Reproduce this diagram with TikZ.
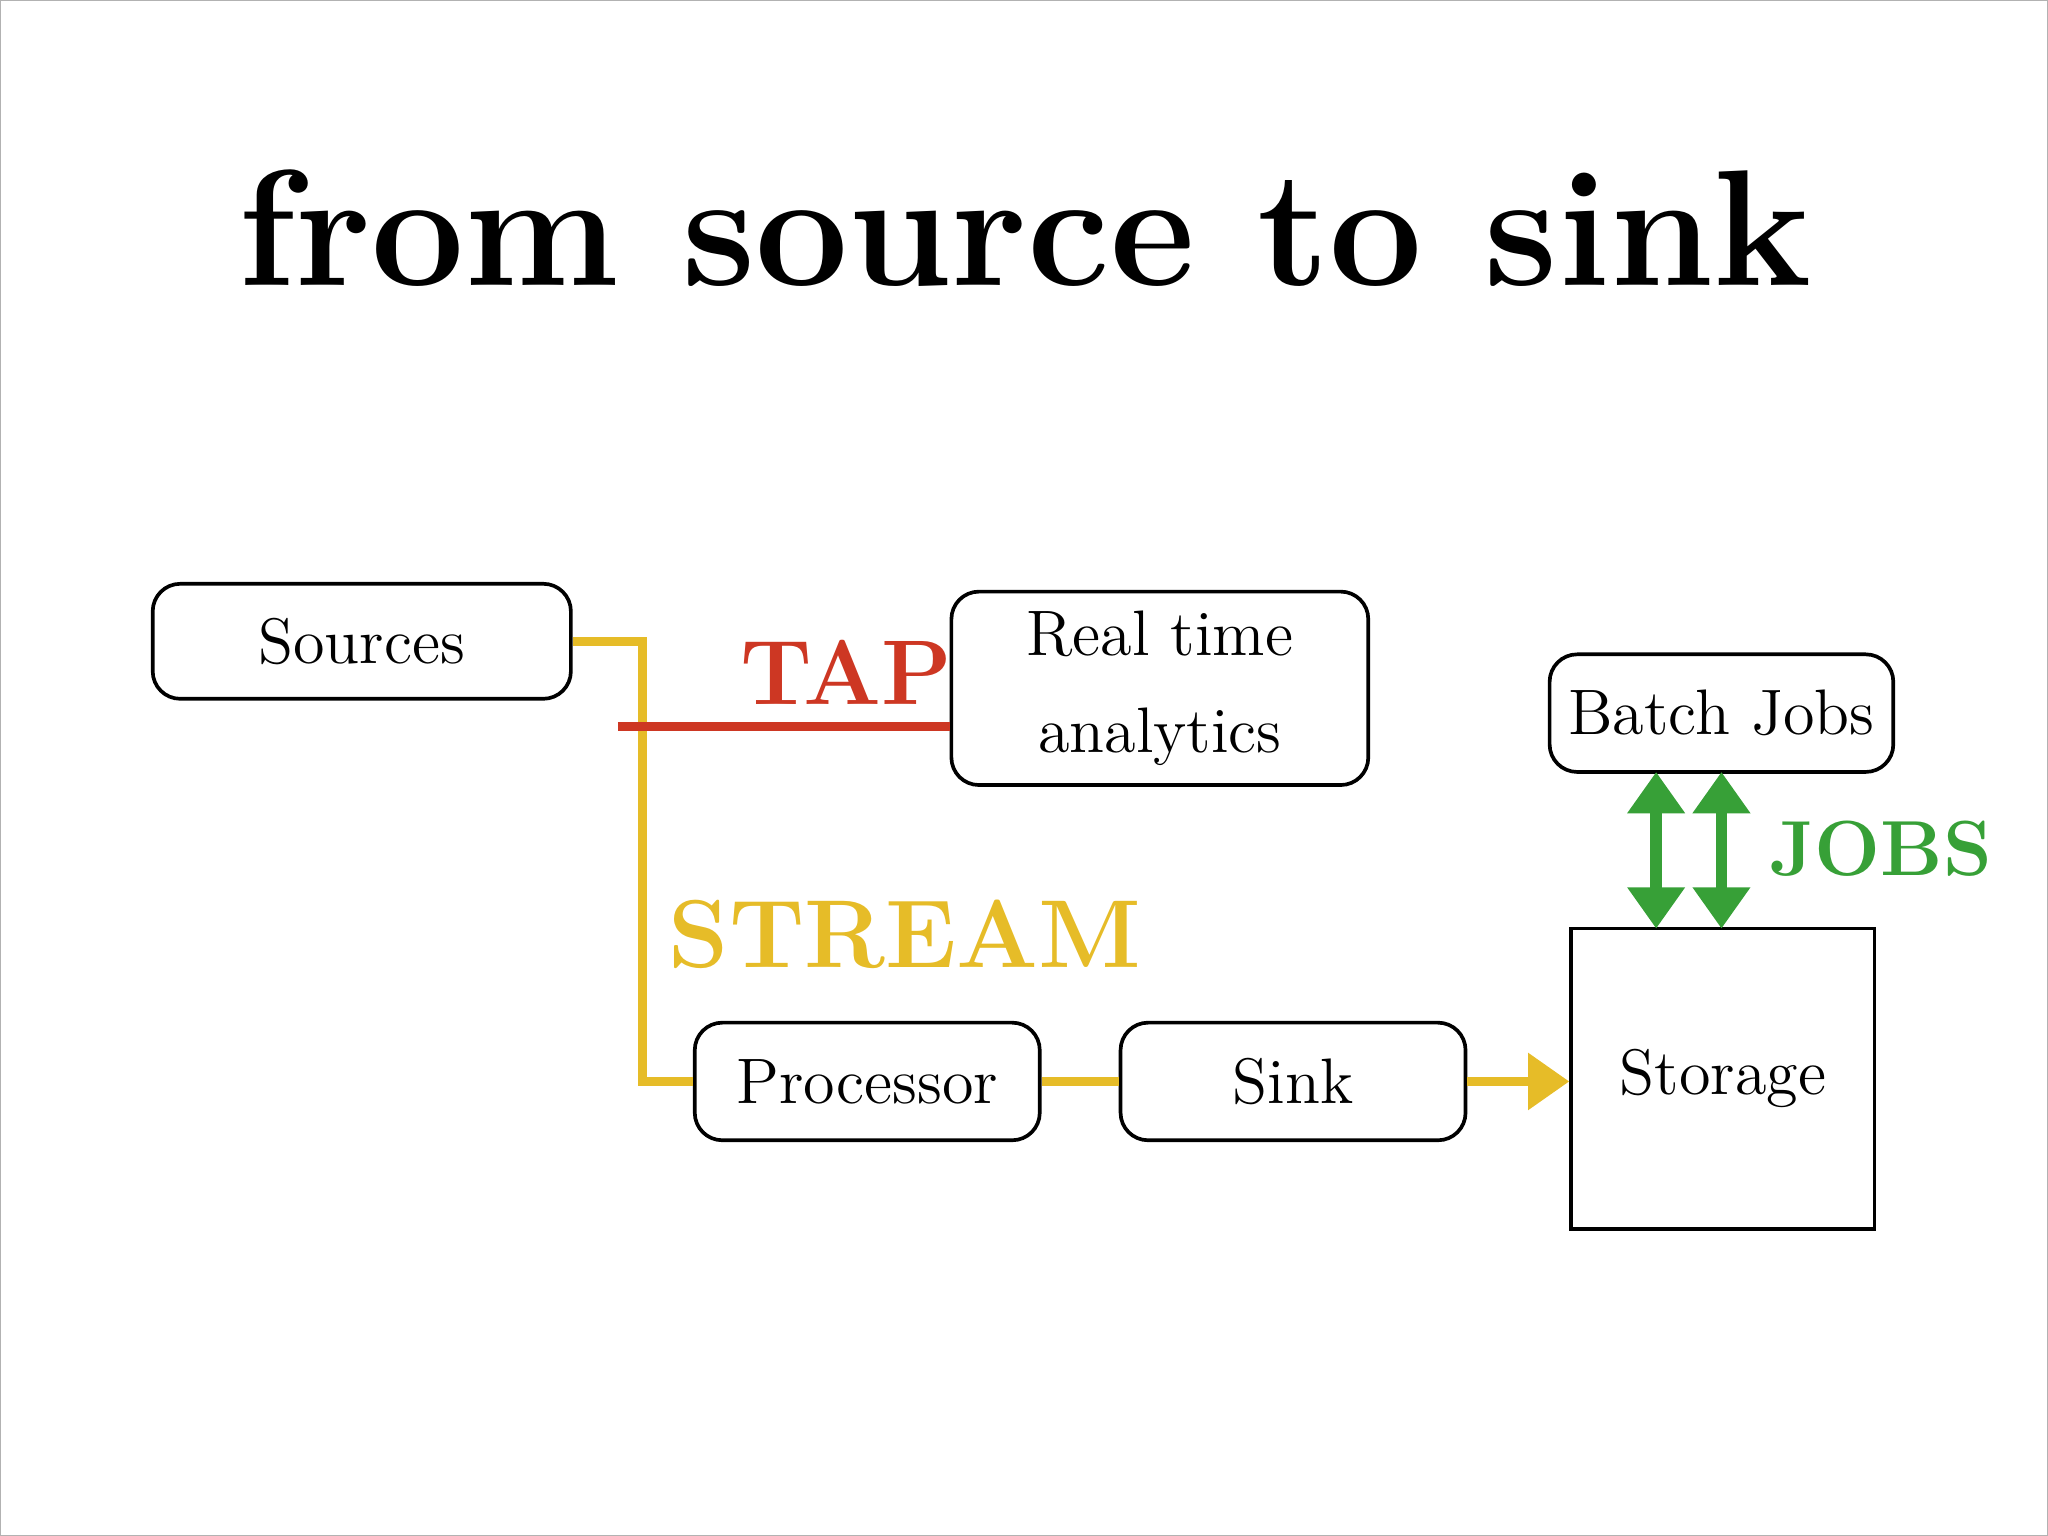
\documentclass[tikz,border=0pt]{standalone}
\usepackage{tikz}
\usetikzlibrary{positioning}
\usetikzlibrary{arrows.meta}
\definecolor{streamcol}{RGB}{230,188,40}
\definecolor{tapcol}{RGB}{205,55,35}
\definecolor{jobscol}{RGB}{55,160,55}
\tikzset{
  box/.style={draw,thick,rounded corners=6pt,inner sep=0pt,font=\fontsize{14}{17}\selectfont},
  flow/.style={streamcol,line width=2pt},
}
\begin{document}
\begin{tikzpicture}[x=0.01cm,y=-0.01cm]
			% frame
			\useasboundingbox (0,0) rectangle (1568,1176);
			\draw[gray!60] (0,0) rectangle (1568,1176);
			
			% title
			\node (title) at (785,175) {\fontsize{36}{42}\selectfont\bfseries from source to sink};
			
			% draw boxes
			\node[box,minimum width=3.2cm,minimum height=0.88cm] (sources) at (277,491) {Sources};
			\node[box,minimum width=3.19cm,minimum height=1.48cm,align=center] (rta) at (888,527) {Real time\\[4pt]analytics};
			\node[box,minimum width=2.63cm,minimum height=0.9cm] (batch) at (1318,546) {Batch Jobs};
			\node[box,rounded corners=0pt,minimum width=2.32cm,minimum height=2.3cm] (storage) at (1319,826) {Storage};
			\node[box,minimum width=2.64cm,minimum height=0.9cm] (proc) at (664,828) {Processor};
			\node[box,minimum width=2.64cm,minimum height=0.9cm] (sink) at (990,828) {Sink};
			
			% draw stream
			\coordinate (bend) at (492,491);
			\draw[flow] (sources.east) -- (bend) -- (bend |- proc.west) -- (proc.west);
			\draw[flow] (proc.east) -- (sink.west);
			\draw[flow,-{Triangle[length=9pt,width=12pt]}] (sink.east) -- (sink.east -| storage.west);
			\node[streamcol,font=\fontsize{21}{24}\selectfont\bfseries] (stream) at (693,715) {STREAM};
			
			% draw tap
			\coordinate (tapstart) at (473,556);
			\draw[tapcol,line width=2pt] (tapstart) -- (rta.west |- tapstart);
			\node[tapcol,font=\fontsize{20}{24}\selectfont\bfseries] (tap) at (648,515) {TAP};
			
			% draw jobs
			\foreach \x in {1268,1318}
			\draw[jobscol,line width=2.5pt,{Triangle[length=9pt,width=12pt]}-{Triangle[length=9pt,width=12pt]}] (\x,591) -- (\x,711);
			\node[jobscol,font=\fontsize{17}{20}\selectfont\bfseries] (jobs) at (1440,650) {JOBS};
\end{tikzpicture}
\end{document}
